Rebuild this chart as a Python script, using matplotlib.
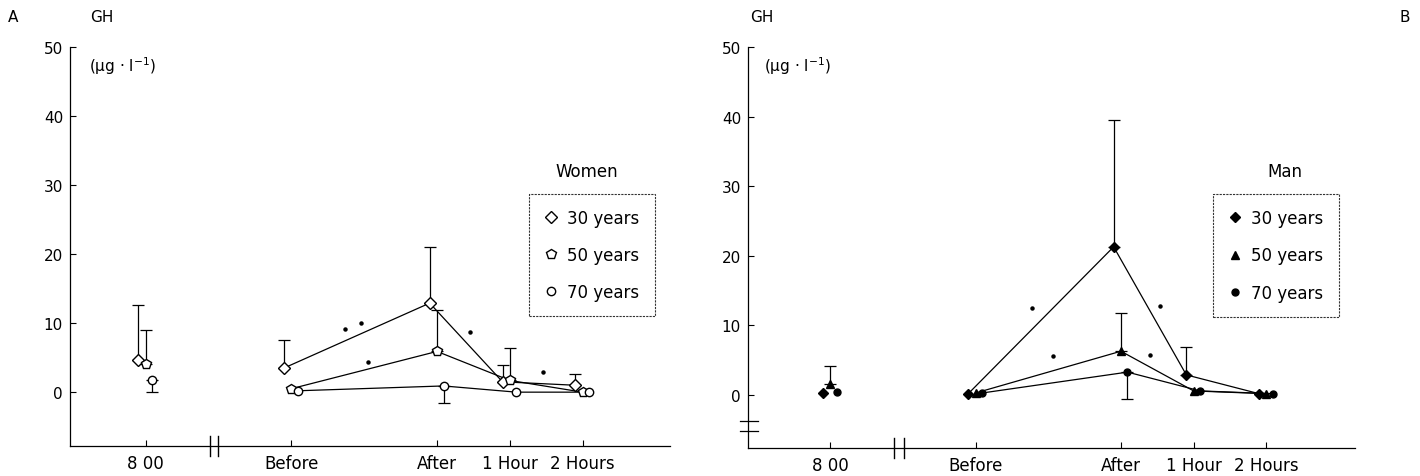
# plot.py
# Recreates the two-panel GH response chart (women / men) and saves it as out.png.

# Import numpy for array handling.
import numpy as np

# Import matplotlib for plotting.
import matplotlib
matplotlib.use("Agg")
import matplotlib.pyplot as plt
from matplotlib.lines import Line2D

# Time points shown on the x axis.
time_labels = ["8 00", "Before", "After", "1 Hour", "2 Hours"]

# Age groups for both panels.
age_labels = ["30 years", "50 years", "70 years"]

# Women: mean GH values per time point.
women_30 = [4.6, 3.5, 12.9, 1.5, 1.0]
women_50 = [4.1, 0.5, 5.9, 1.7, 0.0]
women_70 = [1.7, 0.2, 0.9, 0.0, 0.0]

# Women: upward error lengths.
women_30_up = [8.0, 4.0, 8.1, 2.5, 1.6]
women_50_up = [4.9, 0.0, 6.0, 4.7, 0.0]
women_70_up = [0.0, 0.0, 0.0, 0.0, 0.0]

# Women: downward error lengths.
women_30_down = [0.0, 0.0, 0.0, 0.0, 0.0]
women_50_down = [0.0, 0.0, 0.0, 0.0, 0.0]
women_70_down = [1.7, 0.0, 2.4, 0.0, 0.0]

# Men: mean GH values per time point.
men_30 = [0.3, 0.2, 21.3, 2.9, 0.2]
men_50 = [1.6, 0.3, 6.3, 0.6, 0.2]
men_70 = [0.4, 0.3, 3.3, 0.6, 0.2]

# Men: upward error lengths.
men_30_up = [0.0, 0.0, 18.2, 4.0, 0.0]
men_50_up = [2.6, 0.0, 5.5, 0.0, 0.0]
men_70_up = [0.0, 0.0, 0.0, 0.0, 0.0]

# Men: downward error lengths.
men_30_down = [0.0, 0.0, 0.0, 0.0, 0.0]
men_50_down = [0.0, 0.0, 0.0, 0.0, 0.0]
men_70_down = [0.0, 0.0, 3.9, 0.0, 0.0]

# Significance dots (x in time-axis units, y in GH units).
women_dots_x = [2.73, 2.95, 3.05, 4.45, 5.45]
women_dots_y = [9.1, 10.0, 4.3, 8.7, 2.9]
men_dots_x = [2.77, 3.06, 4.4, 4.54]
men_dots_y = [12.5, 5.6, 5.8, 12.8]

# Y axis ticks.
y_ticks = [0, 10, 20, 30, 40, 50]

# Horizontal positions of the time points (gap between 8 00 and Before).
x_pos = np.array([0, 2, 4, 5, 6], dtype=float)

# Small horizontal shifts so the three groups do not overlap.
offsets = [-0.1, 0.0, 0.09]

# Marker styles for the open (women) and filled (men) symbols.
women_markers = ["D", "p", "o"]
men_markers = ["D", "^", "o"]
women_sizes = [6, 7, 6]
men_sizes = [5, 6, 5]

# Use a plain sans-serif font.
plt.rcParams["font.family"] = ["DejaVu Sans"]
plt.rcParams["font.size"] = 10

# Create the figure at the target size.
fig = plt.figure(figsize=(14.2, 4.77), dpi=100)

# Place both panels by hand to match the reference layout.
ax_a = fig.add_axes([70 / 1420, 1 - 447 / 477, 600 / 1420, 399 / 477])
ax_b = fig.add_axes([748 / 1420, 1 - 449 / 477, 607 / 1420, 401 / 477])


def draw_panel(ax, values, ups, downs, markers, sizes, filled, dots_x, dots_y, ylim_low, xlim, title, legend_box, title_x):
    # Draw the three age groups with lines from Before onwards.
    handles = []
    for i in range(3):
        xs = x_pos + offsets[i]
        ys = np.array(values[i])
        face = "black" if filled else "white"
        # Error bars (one sided).
        err = np.array([downs[i], ups[i]])
        mask = (err.sum(axis=0) > 0)
        ax.errorbar(xs[mask], ys[mask], yerr=err[:, mask], fmt="none", ecolor="black",
                    elinewidth=0.9, capsize=4, capthick=0.9, zorder=2)
        # Connecting line from Before to 2 Hours.
        ax.plot(xs[1:], ys[1:], color="black", lw=0.9, zorder=3)
        # Markers at every time point.
        ax.plot(xs, ys, ls="none", marker=markers[i], ms=sizes[i], mfc=face,
                mec="black", mew=1.0, zorder=4)
        handles.append(Line2D([], [], ls="none", marker=markers[i], ms=sizes[i],
                              mfc=face, mec="black", mew=1.0))

    # Significance dots.
    ax.plot(dots_x, dots_y, ls="none", marker="o", ms=2.2, color="black")

    # Axis limits and ticks.
    ax.set_xlim(*xlim)
    ax.set_ylim(ylim_low, 50)
    ax.set_yticks(y_ticks)
    ax.set_xticks(x_pos)
    ax.set_xticklabels(time_labels, fontsize=12)
    ax.tick_params(axis="both", direction="in", length=4, width=0.8)
    ax.tick_params(axis="y", pad=5, labelsize=11)
    ax.tick_params(axis="x", pad=6, labelsize=12)

    # Only the left and bottom spines are drawn.
    ax.spines["top"].set_visible(False)
    ax.spines["right"].set_visible(False)
    ax.spines["left"].set_linewidth(0.9)
    ax.spines["bottom"].set_linewidth(0.9)

    # Legend box with dotted frame.
    leg = ax.legend(handles, age_labels, loc="upper left", bbox_to_anchor=legend_box,
                    frameon=True, fancybox=False, edgecolor="black", handlelength=0.8,
                    handletextpad=0.6, labelspacing=1.15, borderpad=0.9, fontsize=12,
                    borderaxespad=0)
    leg.get_frame().set_linestyle((0, (2, 1)))
    leg.get_frame().set_linewidth(0.8)

    # Legend title above the box.
    ax.text(title_x, legend_box[1] + 0.058, title, transform=ax.transAxes,
            ha="center", va="center", fontsize=12)


# Left panel: women.
draw_panel(ax_a,
           [women_30, women_50, women_70],
           [women_30_up, women_50_up, women_70_up],
           [women_30_down, women_50_down, women_70_down],
           women_markers, women_sizes, False,
           women_dots_x, women_dots_y, -7.8, (-1.04, 7.2), "Women", (0.765, 0.632), 0.862)

# Right panel: men.
draw_panel(ax_b,
           [men_30, men_50, men_70],
           [men_30_up, men_50_up, men_70_up],
           [men_30_down, men_50_down, men_70_down],
           men_markers, men_sizes, True,
           men_dots_x, men_dots_y, -7.6, (-1.13, 7.22), "Man", (0.766, 0.633), 0.885)

# X axis break marks.
for ax, xb in [(ax_a, [0.88, 0.99]), (ax_b, [0.88, 1.01])]:
    trans = ax.get_xaxis_transform()
    for xv in xb:
        ax.plot([xv, xv], [-0.025, 0.025], color="black", lw=1.0, transform=trans, clip_on=False)

# Y axis break marks on the right panel.
trans_b = ax_b.get_yaxis_transform()
for yv in [-3.7, -5.2]:
    ax_b.plot([-0.014, 0.016], [yv, yv], color="black", lw=0.9, transform=trans_b, clip_on=False)

# Panel letters and axis titles.
fig.text(13 / 1420, 1 - 17 / 477, "A", ha="center", va="center", fontsize=11)
fig.text(1405 / 1420, 1 - 17 / 477, "B", ha="center", va="center", fontsize=11)
fig.text(90 / 1420, 1 - 17 / 477, "GH", ha="left", va="center", fontsize=11)
fig.text(750 / 1420, 1 - 17 / 477, "GH", ha="left", va="center", fontsize=11)
fig.text(89 / 1420, 1 - 66 / 477, "(µg · l$^{-1}$)", ha="left", va="center", fontsize=11)
fig.text(764 / 1420, 1 - 66 / 477, "(µg · l$^{-1}$)", ha="left", va="center", fontsize=11)

# Save the figure.
fig.savefig("out.png", dpi=100)
plt.close(fig)
